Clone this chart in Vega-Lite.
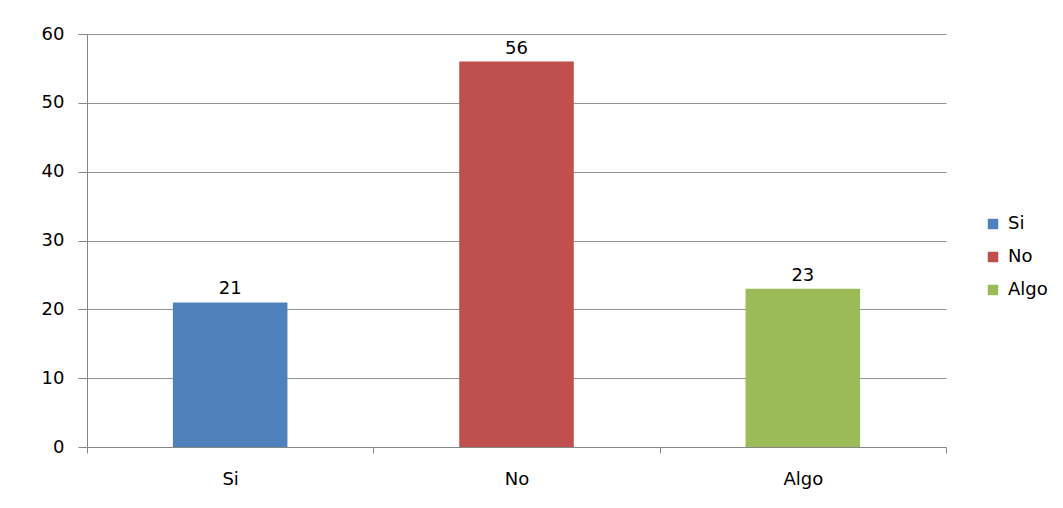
{
  "$schema": "https://vega.github.io/schema/vega-lite/v6.json",
  "width": 859,
  "height": 413,
  "autosize": {"type": "none"},
  "padding": {"left": 87, "top": 34, "right": 117, "bottom": 61},
  "background": "white",
  "config": {
    "view": {"stroke": null},
    "font": "DejaVu Sans"
  },
  "data": {
    "values": [
      {"cat": "Si", "value": 21},
      {"cat": "No", "value": 56},
      {"cat": "Algo", "value": 23}
    ]
  },
  "encoding": {
    "x": {
      "field": "cat",
      "type": "nominal",
      "sort": ["Si", "No", "Algo"],
      "scale": {"paddingInner": 0, "paddingOuter": 0},
      "axis": {
        "title": null,
        "labelAngle": 0,
        "labelFont": "DejaVu Sans",
        "labelFontSize": 18,
        "labelColor": "#000000",
        "labelPadding": 17,
        "tickBand": "extent",
        "tickSize": 6,
        "tickColor": "#868686",
        "domainColor": "#868686",
        "grid": false
      }
    },
    "y": {
      "field": "value",
      "type": "quantitative",
      "scale": {"domain": [0, 60], "nice": false},
      "axis": {
        "title": null,
        "values": [0, 10, 20, 30, 40, 50, 60],
        "labelFont": "DejaVu Sans",
        "labelFontSize": 18,
        "labelColor": "#000000",
        "labelPadding": 14,
        "tickSize": 9,
        "tickColor": "#868686",
        "domainColor": "#868686",
        "gridColor": "#868686",
        "gridOpacity": 0.9
      }
    }
  },
  "layer": [
    {
      "mark": {"type": "bar", "width": {"band": 0.4}},
      "encoding": {
        "color": {
          "field": "cat",
          "type": "nominal",
          "sort": ["Si", "No", "Algo"],
          "scale": {"domain": ["Si", "No", "Algo"], "range": ["#4F81BD", "#C0504D", "#9BBB59"]},
          "legend": {
            "title": null,
            "orient": "none",
            "legendX": 897,
            "legendY": 181,
            "symbolType": "square",
            "symbolSize": 110,
            "symbolStrokeWidth": 0,
            "labelFont": "DejaVu Sans",
            "labelFontSize": 18,
            "labelColor": "#000000",
            "rowPadding": 15,
            "labelOffset": 6
          }
        }
      }
    },
    {
      "mark": {"type": "text", "dy": -13, "font": "DejaVu Sans", "fontSize": 18, "color": "#000000"},
      "encoding": {
        "text": {"field": "value", "type": "quantitative"}
      }
    }
  ]
}
